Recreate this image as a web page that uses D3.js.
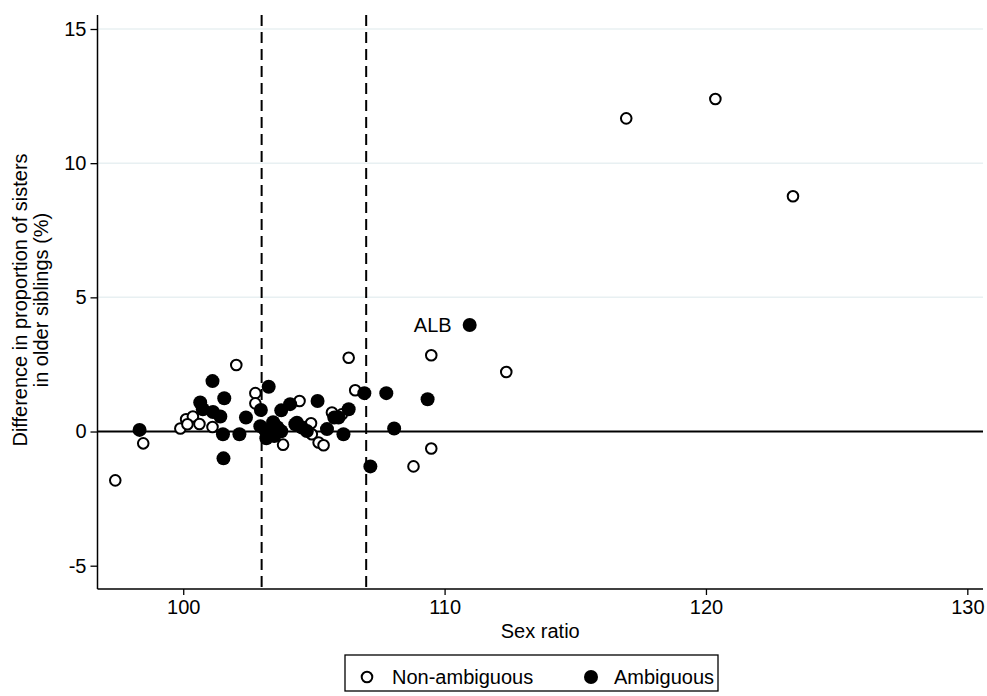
<!DOCTYPE html>
<html>
<head>
<meta charset="utf-8">
<script src="https://cdn.jsdelivr.net/npm/d3@7"></script>
<style>
  body { margin: 0; background: #fff; }
  svg { display: block; font-family: "Liberation Sans", Arial, sans-serif; }
</style>
</head>
<body>
<svg id="chart" width="987" height="696"></svg>
<script>
// Sex ratio vs. difference in proportion of sisters among older siblings
const nonAmbigX = [97.40, 98.47, 99.89, 100.11, 100.37, 100.16, 100.62, 101.12, 102.03, 102.76,
  102.76, 103.82, 104.45, 104.89, 104.92, 105.18, 105.37, 105.69, 106.07, 106.33,
  106.58, 108.81, 109.49, 109.49, 112.36, 116.95, 120.36, 123.33];
const nonAmbigY = [-1.82, -0.44, 0.11, 0.46, 0.56, 0.27, 0.28, 0.17, 2.48, 1.43,
  1.05, -0.49, 1.14, 0.31, -0.10, -0.41, -0.51, 0.71, 0.64, 2.75,
  1.54, -1.30, 2.84, -0.63, 2.22, 11.67, 12.39, 8.77];

const ambigX = [98.33, 100.65, 100.75, 101.12, 101.14, 101.42, 101.57, 101.52, 101.54, 102.15,
  102.40, 102.97, 103.27, 102.95, 103.14, 103.33, 103.18, 103.48, 103.60, 103.75,
  103.44, 103.75, 104.09, 104.29, 104.35, 104.54, 104.73, 105.14, 105.50, 105.78,
  105.94, 106.13, 106.33, 106.93, 107.16, 107.77, 108.07, 109.35, 110.96];
const ambigY = [0.06, 1.08, 0.83, 1.88, 0.73, 0.56, 1.24, -0.10, -1.00, -0.10,
  0.52, 0.80, 1.67, 0.20, 0.05, 0.09, -0.25, -0.17, 0.16, 0.01,
  0.35, 0.79, 1.02, 0.27, 0.33, 0.15, 0.02, 1.14, 0.09, 0.52,
  0.52, -0.10, 0.83, 1.43, -1.30, 1.43, 0.11, 1.20, 3.97];
const ambigLabel = ["", "", "", "", "", "", "", "", "", "",
  "", "", "", "", "", "", "", "", "", "",
  "", "", "", "", "", "", "", "", "", "",
  "", "", "", "", "", "", "", "", "ALB"];

const xTicks = [100, 110, 120, 130];
const yTicks = [-5, 0, 5, 10, 15];
const gridY = [5, 10, 15];
const refLinesX = [103, 107];

const seriesNames = ["Non-ambiguous", "Ambiguous"];

const svg = d3.select("#chart");
const plotL = 97.5, plotR = 983, plotT = 15, plotB = 589;

const x = d3.scaleLinear().domain([96.72, 130.6]).range([plotL, plotR]);
const y = d3.scaleLinear().domain([-5.0, 15.0]).range([565.7, 29.0]);
y.domain([y.invert(plotB), y.invert(plotT)]).range([plotB, plotT]);

// plain hyphen-minus for negative tick labels
const fmt = d => String(d);

// light horizontal grid
svg.append("g").selectAll("line").data(gridY).join("line")
  .attr("x1", plotL).attr("x2", plotR)
  .attr("y1", d => y(d)).attr("y2", d => y(d))
  .attr("stroke", "#e8f0f2").attr("stroke-width", 1.5);

// zero line
svg.append("line")
  .attr("x1", plotL).attr("x2", plotR)
  .attr("y1", y(0)).attr("y2", y(0))
  .attr("stroke", "#000").attr("stroke-width", 2);

// dashed reference lines
svg.append("g").selectAll("line").data(refLinesX).join("line")
  .attr("x1", d => x(d)).attr("x2", d => x(d))
  .attr("y1", plotT).attr("y2", plotB)
  .attr("stroke", "#000").attr("stroke-width", 2)
  .attr("stroke-dasharray", "11,6");

// axes
const xAxis = svg.append("g").attr("transform", `translate(0,${plotB})`)
  .call(d3.axisBottom(x).tickValues(xTicks).tickSize(6).tickPadding(5).tickFormat(fmt));
const yAxis = svg.append("g").attr("transform", `translate(${plotL},0)`)
  .call(d3.axisLeft(y).tickValues(yTicks).tickSize(7).tickPadding(4).tickFormat(fmt));
[xAxis, yAxis].forEach(g => {
  g.select(".domain").attr("stroke", "#000").attr("stroke-width", 1.5);
  g.selectAll(".tick line").attr("stroke", "#000").attr("stroke-width", 1.3);
  g.selectAll(".tick text").attr("font-size", 20).attr("fill", "#000")
    .attr("font-family", "Liberation Sans, Arial, sans-serif");
});
xAxis.select(".domain").attr("d", `M${plotL},0H${plotR}`);
yAxis.select(".domain").attr("d", `M0,${plotT}V${plotB}`);

// axis titles
svg.append("text").attr("x", (plotL + plotR) / 2).attr("y", 638)
  .attr("text-anchor", "middle").attr("font-size", 20).text("Sex ratio");
const yt = svg.append("text").attr("transform", "translate(0,300) rotate(-90)")
  .attr("text-anchor", "middle").attr("font-size", 20);
yt.append("tspan").attr("x", 0).attr("y", 27).text("Difference in proportion of sisters");
yt.append("tspan").attr("x", 0).attr("y", 48).text("in older siblings (%)");

// points
const nonAmbig = nonAmbigX.map((v, i) => ({ x: v, y: nonAmbigY[i] }));
const ambig = ambigX.map((v, i) => ({ x: v, y: ambigY[i], label: ambigLabel[i] }));

svg.append("g").selectAll("circle").data(nonAmbig).join("circle")
  .attr("cx", d => x(d.x)).attr("cy", d => y(d.y)).attr("r", 5.3)
  .attr("fill", "#fff").attr("stroke", "#000").attr("stroke-width", 2);

svg.append("g").selectAll("circle").data(ambig).join("circle")
  .attr("cx", d => x(d.x)).attr("cy", d => y(d.y)).attr("r", 7)
  .attr("fill", "#000");

svg.append("g").selectAll("text").data(ambig.filter(d => d.label)).join("text")
  .attr("x", d => x(d.x) - 18).attr("y", d => y(d.y) + 7)
  .attr("text-anchor", "end").attr("font-size", 20).text(d => d.label);

// legend
const lg = svg.append("g");
lg.append("rect").attr("x", 345).attr("y", 655).attr("width", 373).attr("height", 36)
  .attr("fill", "#fff").attr("stroke", "#000").attr("stroke-width", 1.3);
lg.append("circle").attr("cx", 367).attr("cy", 677).attr("r", 5.3)
  .attr("fill", "#fff").attr("stroke", "#000").attr("stroke-width", 2);
lg.append("text").attr("x", 392).attr("y", 684).attr("font-size", 20).text(seriesNames[0]);
lg.append("circle").attr("cx", 591).attr("cy", 677).attr("r", 7).attr("fill", "#000");
lg.append("text").attr("x", 614).attr("y", 684).attr("font-size", 20).text(seriesNames[1]);
</script>
</body>
</html>
